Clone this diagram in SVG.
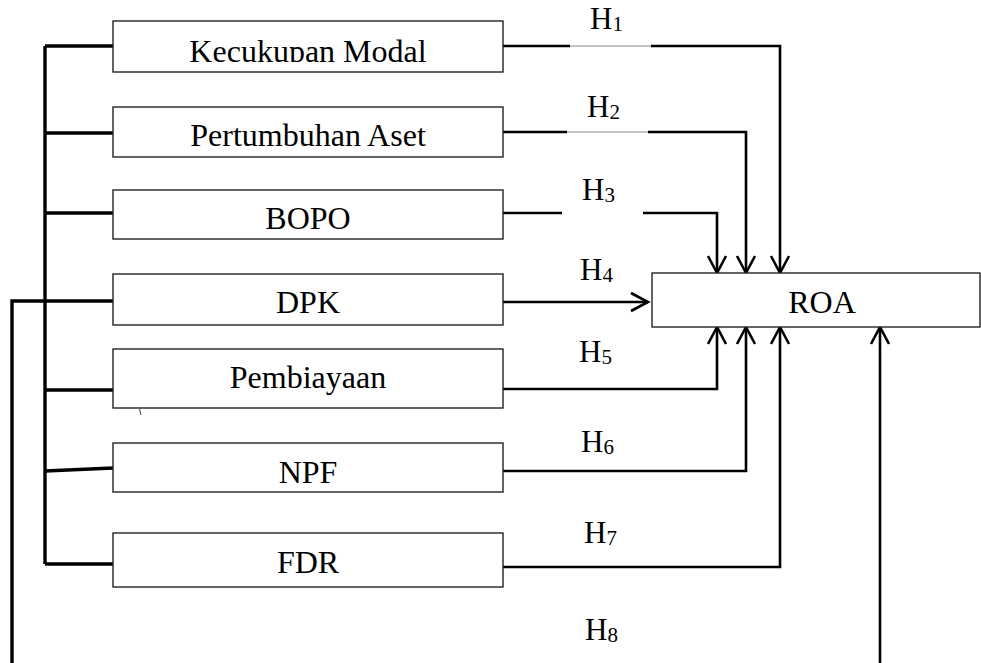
<svg xmlns="http://www.w3.org/2000/svg" width="981" height="663" viewBox="0 0 981 663">
<defs>
<style>
.box{fill:#fff;stroke:#222;stroke-width:1.4}
.t{font-family:"Liberation Serif","Times New Roman",serif;font-size:32px;fill:#000}
.h{font-family:"Liberation Serif","Times New Roman",serif;font-size:31px;fill:#000}
.c{fill:none;stroke:#000;stroke-width:2.6}
.bus{fill:none;stroke:#000;stroke-width:3.4}
.thin{fill:none;stroke:#888;stroke-width:1}
.sub{font-size:21px}
</style>
<marker id="ah" markerUnits="userSpaceOnUse" viewBox="-20 -12 24 24" refX="0" refY="0" markerWidth="24" markerHeight="24" orient="auto">
<path d="M-17,-9 L0,0 L-17,9" fill="none" stroke="#000" stroke-width="2.6"/>
</marker>
<clipPath id="clip1"><rect x="113" y="21" width="390" height="41"/></clipPath>
</defs>

<g id="connectors">
<path class="bus" d="M45,46 V564"/>
<path class="bus" d="M45,46 H113 M45,133 H113 M45,213 H113 M45,390 H113 M45,471 L113,468 M45,564 H113"/>
<path class="bus" d="M12,663 V301 H113"/>
<path class="c" d="M503,46 H570"/>
<path class="thin" d="M570,46 H651"/>
<path class="c" d="M651,46 H780 V273" stroke-width="3" marker-end="url(#ah)"/>
<path class="c" d="M503,132 H567"/>
<path class="thin" d="M567,132 H648"/>
<path class="c" d="M648,132 H746 V273" marker-end="url(#ah)"/>
<path class="c" d="M503,213 H562"/>
<path class="c" d="M643,213 H717 V273" marker-end="url(#ah)"/>
<path class="c" d="M503,302 H648" marker-end="url(#ah)"/>
<path class="c" d="M503,389 H717 V327" marker-end="url(#ah)"/>
<path class="c" d="M503,471 H746 V327" marker-end="url(#ah)"/>
<path class="c" d="M503,567 H780 V327" marker-end="url(#ah)"/>
<path class="c" d="M880,663 V327" stroke-width="3.2" marker-end="url(#ah)"/>
<path d="M139.5,409 L141,415" stroke="#444" stroke-width="1" fill="none"/>
</g>

<g id="n1"><rect class="box" x="113" y="21" width="390" height="51"/><text class="t" x="308" y="62" text-anchor="middle" clip-path="url(#clip1)">Kecukupan Modal</text></g>
<g id="n2"><rect class="box" x="113" y="107" width="390" height="50"/><text class="t" x="308" y="146" text-anchor="middle">Pertumbuhan Aset</text></g>
<g id="n3"><rect class="box" x="113" y="190" width="390" height="49"/><text class="t" x="308" y="229" text-anchor="middle">BOPO</text></g>
<g id="n4"><rect class="box" x="113" y="274" width="390" height="51"/><text class="t" x="308" y="313" text-anchor="middle">DPK</text></g>
<g id="n5"><rect class="box" x="113" y="349" width="390" height="59"/><text class="t" x="308" y="388" text-anchor="middle">Pembiayaan</text></g>
<g id="n6"><rect class="box" x="113" y="443" width="390" height="49"/><text class="t" x="308" y="483" text-anchor="middle">NPF</text></g>
<g id="n7"><rect class="box" x="113" y="533" width="390" height="54"/><text class="t" x="308" y="573" text-anchor="middle">FDR</text></g>
<g id="roa"><rect class="box" x="652" y="273" width="328" height="54"/><text class="t" x="822" y="313" text-anchor="middle">ROA</text></g>

<g id="labels">
<text class="h" x="590" y="29">H<tspan class="sub" dy="2">1</tspan></text>
<text class="h" x="587" y="117">H<tspan class="sub" dy="2">2</tspan></text>
<text class="h" x="582" y="200">H<tspan class="sub" dy="2">3</tspan></text>
<text class="h" x="580" y="280">H<tspan class="sub" dy="2">4</tspan></text>
<text class="h" x="579" y="362">H<tspan class="sub" dy="2">5</tspan></text>
<text class="h" x="581" y="452">H<tspan class="sub" dy="2">6</tspan></text>
<text class="h" x="584" y="543">H<tspan class="sub" dy="2">7</tspan></text>
<text class="h" x="585" y="640">H<tspan class="sub" dy="2">8</tspan></text>
</g>
</svg>
